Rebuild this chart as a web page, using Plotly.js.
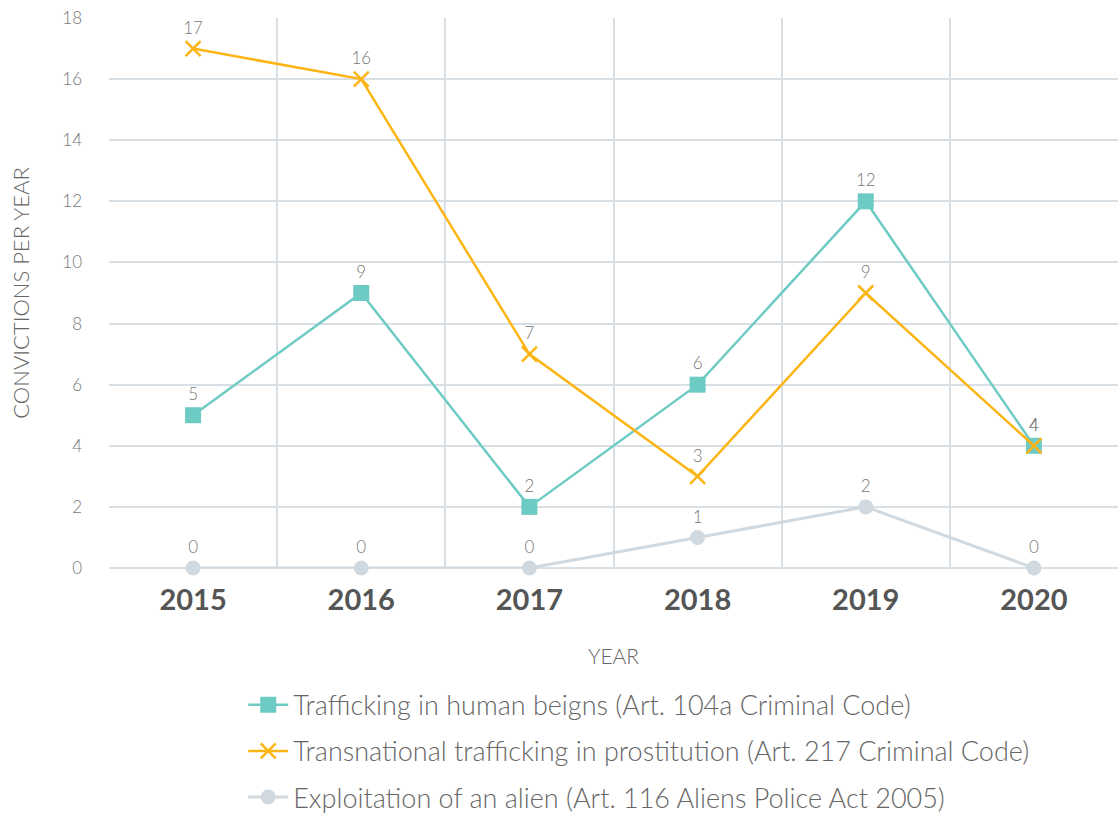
<!DOCTYPE html>
<html><head><meta charset="utf-8">
<script src="https://cdn.plot.ly/plotly-3.0.1.min.js"></script>
<style>html,body{margin:0;padding:0;background:#fff}</style>
</head><body><div id="chart" style="width:1118px;height:823px"></div>
<script>
const years = ["2015","2016","2017","2018","2019","2020"];
const humanBeings = [5, 9, 2, 6, 12, 4];
const prostitution = [17, 16, 7, 3, 9, 4];
const alien = [0, 0, 0, 1, 2, 0];
const seriesNames = [
  "Trafficking in human beigns (Art. 104a Criminal Code)",
  "Transnational trafficking in prostitution (Art. 217 Criminal Code)",
  "Exploitation of an alien (Art. 116 Aliens Police Act 2005)"
];
const yTicks = [0,2,4,6,8,10,12,14,16,18];
const FONT = "Lato, 'Open Sans', sans-serif";
const labelFont = {family: FONT, size: 17, color: "#777", weight: 300};

function trace(y, name, color, symbol, size, lw, rank) {
  return {
    x: years, y: y, name: name, type: "scatter", mode: "lines+markers+text",
    legendrank: rank, legendgroup: "g" + rank,
    line: {color: color, width: lw},
    marker: {color: color, symbol: symbol, size: size, line: {color: color, width: symbol==="x-thin"?2.5:0}},
    text: y.map(String), textposition: "top center",
    textfont: labelFont, cliponaxis: false
  };
}
const data = [
  trace(alien, seriesNames[2], "#D0D9DF", "circle", 15, 3, 3),
  trace(humanBeings, seriesNames[0], "#6ECBC4", "square", 16, 2.5, 1),
  trace(prostitution, seriesNames[1], "#FDB515", "x-thin", 15, 2.5, 2)
];
const layout = {
  width: 1118, height: 823,
  margin: {l: 109, r: 0, t: 18, b: 255},
  paper_bgcolor: "#fff", plot_bgcolor: "#fff",
  font: {family: FONT, color: "#666"},
  showlegend: true,
  legend: {x: 0.133, y: -0.205, xanchor: "left", yanchor: "top", orientation: "v",
    traceorder: "grouped", tracegroupgap: 8,
    font: {family: FONT, size: 27, color: "#666", weight: 300}, itemwidth: 40},
  xaxis: {
    type: "category", range: [-0.5, 5.5], tickson: "boundaries",
    showgrid: true, gridcolor: "#D9E0E5", gridwidth: 1.5,
    ticks: "", showline: false, zeroline: false,
    tickfont: {family: FONT, size: 29, color: "#555", weight: "bold"},
    ticklabelstandoff: 12,
    title: {text: "YEAR", font: {family: FONT, size: 21, color: "#666", weight: 300}, standoff: 34}
  },
  yaxis: {
    range: [0, 18], tickvals: yTicks, ticktext: yTicks.map(String),
    showgrid: true, gridcolor: "#D9E0E5", gridwidth: 1.5,
    zeroline: true, zerolinecolor: "#D9E0E5", zerolinewidth: 1.5,
    ticks: "", showline: false,
    tickfont: {family: FONT, size: 17, color: "#777", weight: 300},
    ticklabelstandoff: 26,
    title: {text: "CONVICTIONS PER YEAR", font: {family: FONT, size: 22, color: "#666", weight: 300}, standoff: 26}
  }
};
Plotly.newPlot("chart", data, layout, {displayModeBar: false});
</script></body></html>
